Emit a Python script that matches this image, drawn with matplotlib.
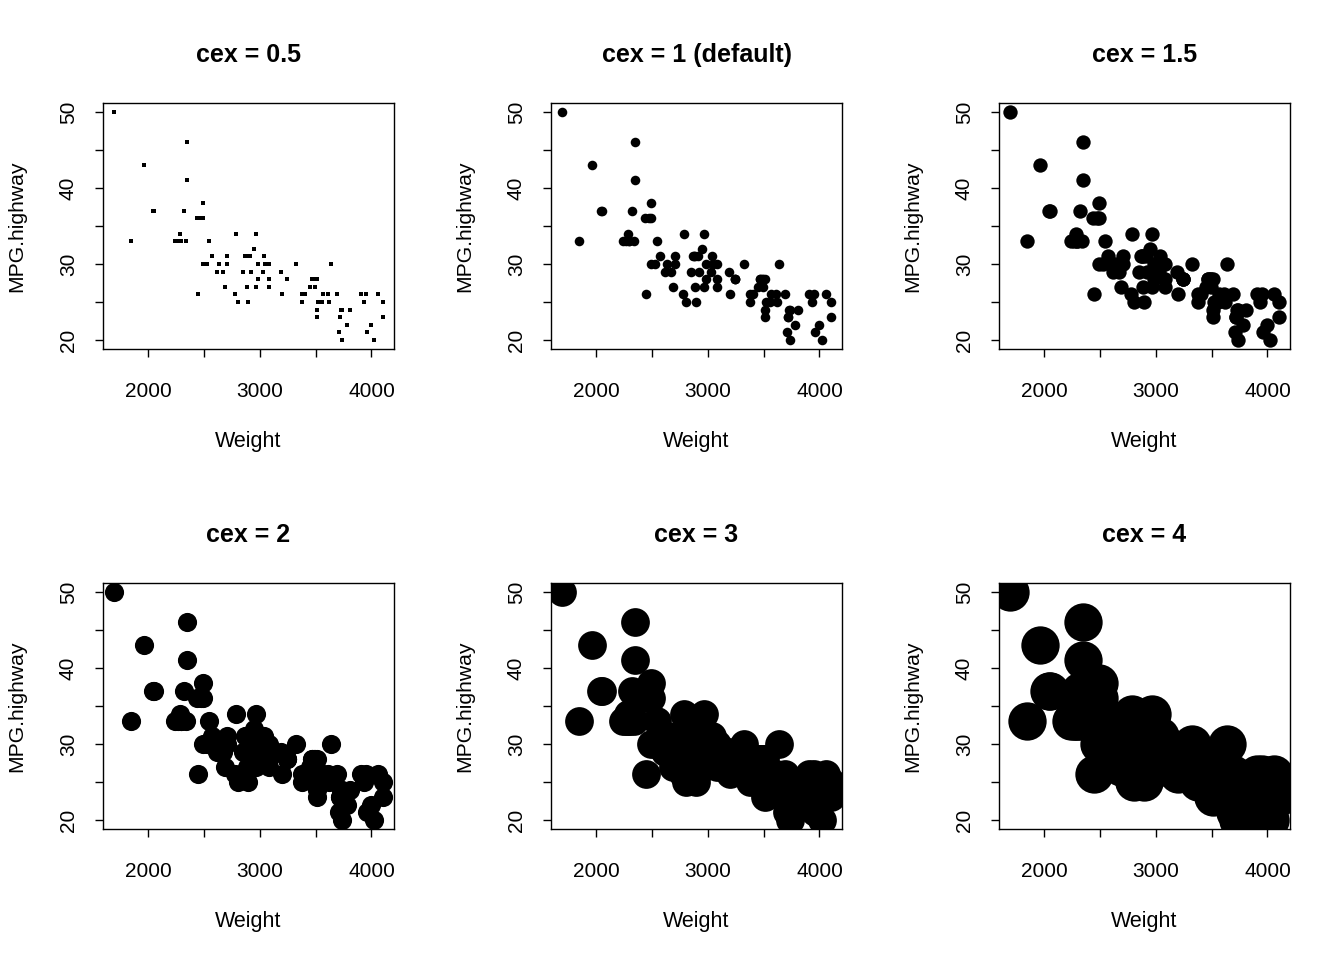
import matplotlib
matplotlib.use("Agg")
import matplotlib.pyplot as plt

plt.rcParams["font.family"] = ["Liberation Sans", "DejaVu Sans"]

# Cars93: Weight vs MPG.highway
weight = [2705, 3560, 3375, 3405, 3640, 2880, 3470, 4105, 3495, 3620,
          3935, 2490, 2785, 3240, 3195, 3715, 4025, 3910, 3380, 3515,
          3085, 3570, 2270, 2670, 2970, 3705, 3080, 3805, 2295, 3490,
          1845, 2530, 2690, 2850, 2710, 3735, 3325, 3950, 1695, 2475,
          2865, 2350, 3040, 2345, 2620, 2285, 2885, 4000, 3510, 3515,
          3695, 4055, 2325, 2440, 2970, 3735, 2895, 2920, 3525, 2450,
          3610, 2295, 3730, 2545, 3050, 4100, 3200, 2910, 2890, 3715,
          3470, 2640, 2350, 2575, 3240, 3450, 3495, 2775, 2495, 2045,
          2490, 3085, 1965, 2055, 2950, 3030, 3785, 2240, 3960, 2985,
          2810, 2985, 3245]
mpg_highway = [31, 25, 26, 26, 30, 31, 28, 25, 27, 25,
               25, 36, 34, 28, 29, 23, 20, 26, 25, 28,
               28, 26, 33, 29, 27, 21, 27, 24, 33, 28,
               33, 30, 27, 29, 30, 20, 30, 26, 50, 36,
               31, 46, 31, 33, 29, 34, 27, 22, 24, 23,
               26, 26, 37, 36, 34, 24, 25, 29, 25, 26,
               26, 33, 24, 33, 30, 23, 26, 31, 31, 23,
               28, 30, 41, 31, 28, 27, 28, 26, 38, 37,
               30, 30, 43, 37, 32, 29, 22, 33, 21, 30,
               25, 28, 28]

cex_values = [0.5, 1, 1.5, 2, 3, 4]
titles = ["cex = 0.5", "cex = 1 (default)", "cex = 1.5",
          "cex = 2", "cex = 3", "cex = 4"]

x_ticks = [2000, 2500, 3000, 3500, 4000]
x_ticklabels = ["2000", "", "3000", "", "4000"]
y_ticks = [20, 25, 30, 35, 40, 45, 50]
y_ticklabels = ["20", "", "30", "", "40", "", "50"]

fig = plt.figure(figsize=(13.44, 9.6), dpi=100)

lefts = [103, 551, 999]
tops = [103, 583]
W, H = 291, 246

for i, (cex, title) in enumerate(zip(cex_values, titles)):
    row, col = divmod(i, 3)
    ax = fig.add_axes([lefts[col] / 1344, 1 - (tops[row] + H) / 960,
                       W / 1344, H / 960])
    if cex == 0.5:
        ax.plot(weight, mpg_highway, "s", color="k", ms=3.2, mew=0)
    else:
        ax.plot(weight, mpg_highway, "o", color="k", ms=6.9 * cex, mew=0)
    ax.set_xlim(1598.6, 4201.4)
    ax.set_ylim(18.8, 51.2)
    ax.set_xticks(x_ticks)
    ax.set_xticklabels(x_ticklabels, fontsize=15)
    ax.set_yticks(y_ticks)
    ax.set_yticklabels(y_ticklabels, fontsize=15, rotation=90, va="center")
    ax.tick_params(axis="both", direction="out", length=5.5, width=1.0,
                   color="k")
    ax.tick_params(axis="x", pad=18)
    ax.tick_params(axis="y", pad=12.5)
    for s in ax.spines.values():
        s.set_linewidth(1.0)
    ax.text(0.5, 1 + 48 / H, title, transform=ax.transAxes, ha="center",
            va="center", fontsize=18, fontweight="bold")
    ax.text(0.5, -92 / H, "Weight", transform=ax.transAxes, ha="center",
            va="center", fontsize=15.5)
    ax.text(-86 / W, 0.5, "MPG.highway", transform=ax.transAxes,
            ha="center", va="center", rotation=90, fontsize=15.2)

fig.savefig("out.png", dpi=100)
